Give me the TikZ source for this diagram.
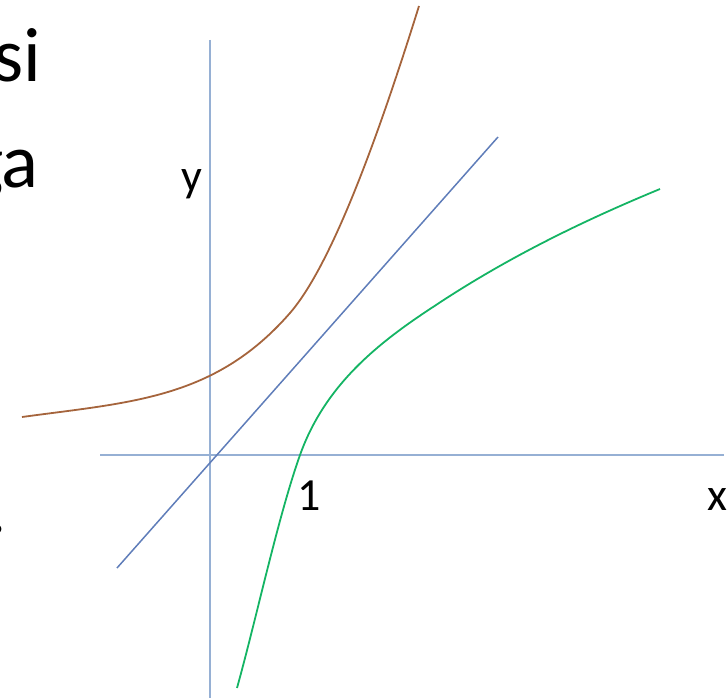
\documentclass[tikz,border=0pt]{standalone}
\usepackage{fontspec}
\setmainfont{Carlito}
\definecolor{axiscol}{RGB}{150,176,212}
\definecolor{diagcol}{RGB}{95,125,185}
\definecolor{browncol}{RGB}{165,100,60}
\definecolor{greencol}{RGB}{20,180,100}
\begin{document}
\begin{tikzpicture}[x=1pt,y=-1pt,
  axisline/.style={draw=axiscol,line width=2pt},
  diagline/.style={draw=diagcol,line width=1.5pt},
  curveb/.style={draw=browncol,line width=1.8pt},
  curveg/.style={draw=greencol,line width=1.8pt},
  bigtxt/.style={font=\fontsize{77}{90}\selectfont,inner sep=0pt,anchor=base east},
  lbl/.style={font=\fontsize{46}{50}\selectfont,inner sep=0pt,anchor=base}]
\useasboundingbox (0,0) rectangle (728,698);
\begin{scope}
\clip (0,0) rectangle (728,698);
\node[bigtxt] (t1) at (41,82) {si};
\node[bigtxt] (t2) at (39,187) {ga};
\node[bigtxt] (t3) at (7,533) {.};
\end{scope}
% axes
\coordinate (ytop) at (210,40);
\coordinate (ybot) at (210,698);
\coordinate (xl) at (100,455);
\coordinate (xr) at (724,455);
\draw[axisline] (ytop) -- (ybot);
\draw[axisline] (xl) -- (xr);
% y = x
\coordinate (dl) at (117,568);
\coordinate (dr) at (498,137);
\draw[diagline] (dl) -- (dr);
% exponential
\coordinate (b0) at (22,417);
\coordinate (b1) at (290,313);
\coordinate (b2) at (419,6);
\draw[curveb] (b0) .. controls (132,402) and (215,399) .. (b1)
                   .. controls (335,261) and (384,118) .. (b2);
% logarithm
\coordinate (g0) at (237,688);
\coordinate (g1) at (300,455);
\coordinate (g2) at (433,307);
\coordinate (g3) at (660,189);
\draw[curveg] (g0) .. controls (257,616) and (278,517) .. (g1)
                   .. controls (325,385) and (378,343) .. (g2)
                   .. controls (508,257) and (585,220) .. (g3);
% labels
\node[lbl] (ly) at (192,191) {y};
\node[lbl] (l1) at (309,510) {1};
\node[lbl] (lx) at (717,510) {x};
\end{tikzpicture}
\end{document}
